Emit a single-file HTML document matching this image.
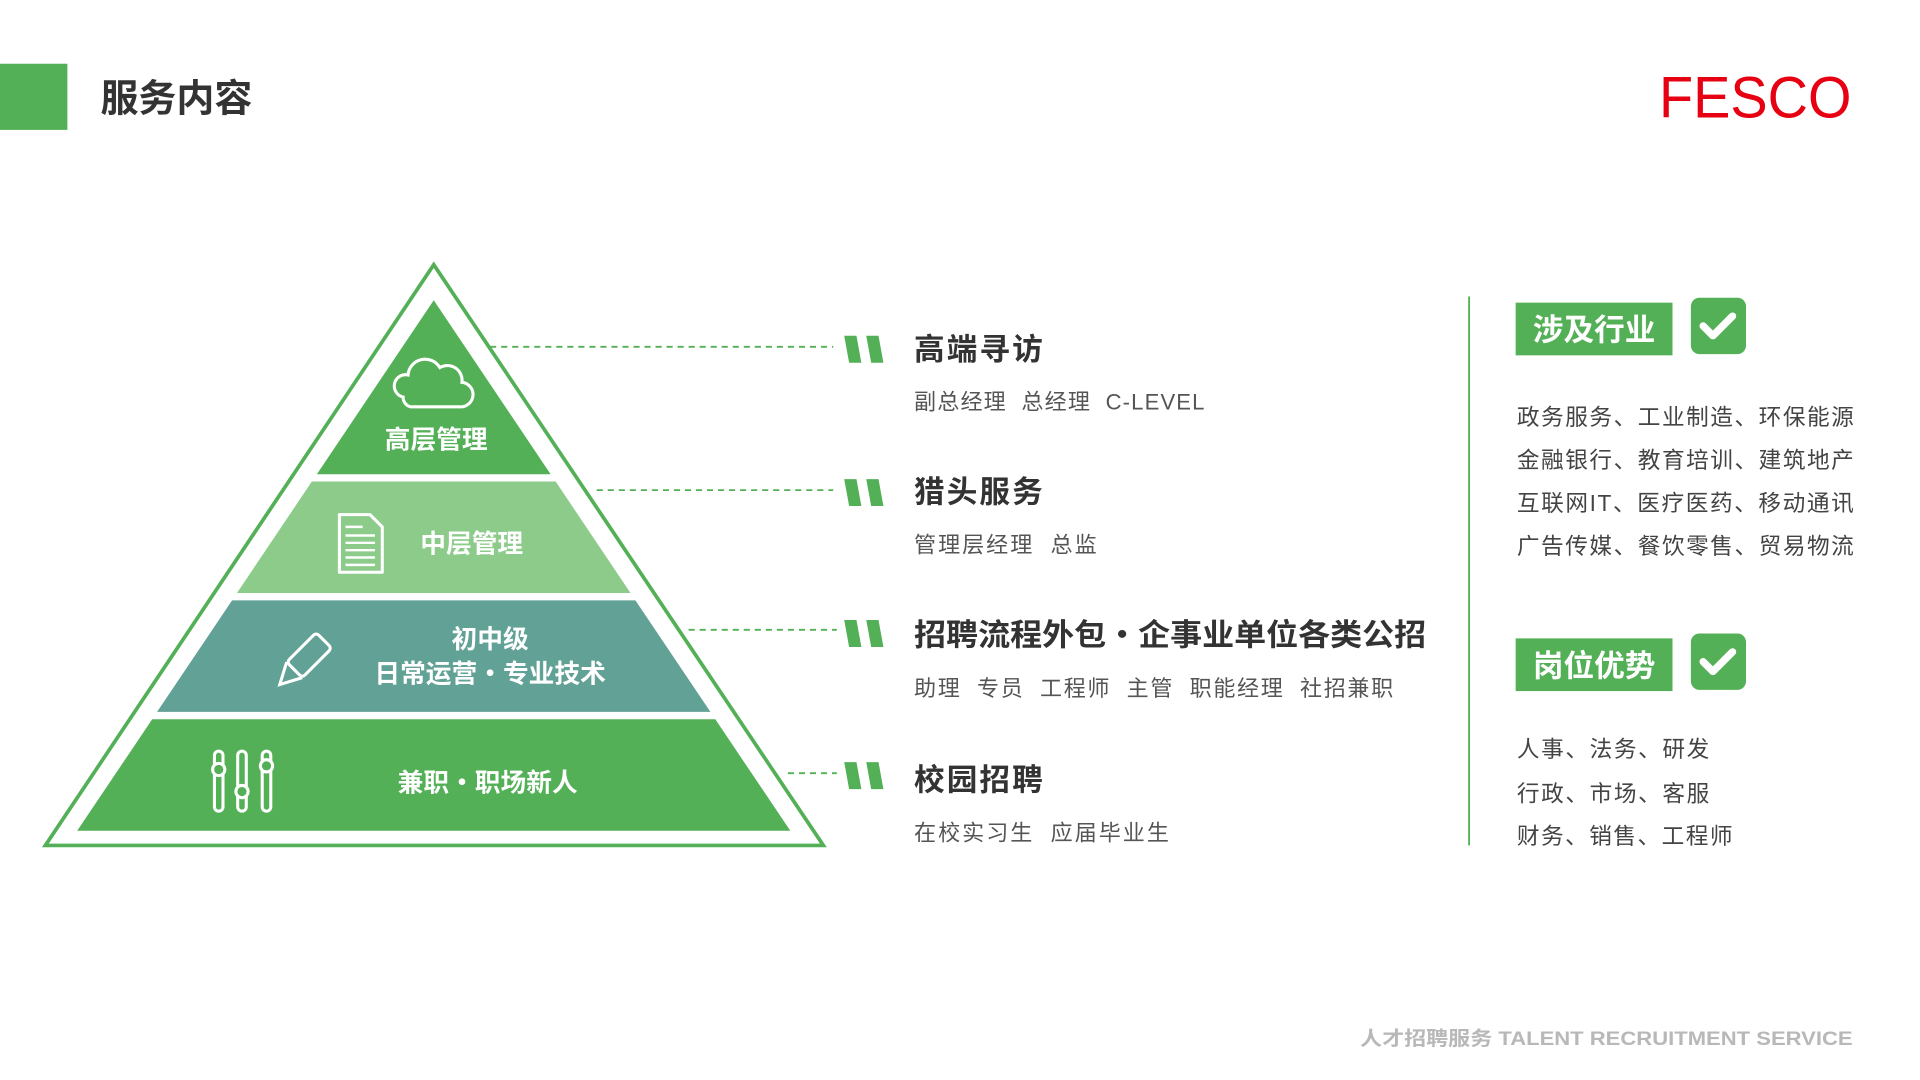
<!DOCTYPE html>
<html><head><meta charset="utf-8"><style>
html,body{margin:0;padding:0;background:#fff;overflow:hidden}
svg{display:block}
text{font-family:"Liberation Sans","Noto Sans CJK SC",sans-serif;white-space:pre}
</style></head><body>
<svg width="1920" height="1080" viewBox="0 0 1567 881.4" xmlns="http://www.w3.org/2000/svg">
<rect x="0" y="52" width="55" height="54" fill="#53b057"/>
<text x="82" y="91" font-size="31" font-weight="bold" fill="#333">服务内容</text>
<text x="1354" y="96" font-size="48" fill="#e60012" textLength="157" lengthAdjust="spacingAndGlyphs">FESCO</text>

<polygon points="354,216 672,690 37,690" fill="none" stroke="#53b057" stroke-width="3"/>
<polygon points="354,245 449.4,387 258.6,387" fill="#53b057"/>
<polygon points="254.5,393 453.5,393 514.6,484 193.4,484" fill="#8dcb8b"/>
<polygon points="189.4,490 518.6,490 579.8,581 128.2,581" fill="#62a195"/>
<polygon points="124.2,587 583.8,587 645,678 63,678" fill="#53b057"/>

<path d="M335,332 h40 a10,10 0 0 0 2,-20 a12,12 0 0 0 -18,-12 a14,14 0 0 0 -26,6 a9,9 0 0 0 -4,18 a8,8 0 0 0 6,8z" fill="none" stroke="#fff" stroke-width="2.5"/>
<text x="356" y="366" font-size="21" font-weight="bold" fill="#fff" text-anchor="middle">高层管理</text>
<path d="M277,420 h25 l10,10 v37 h-35z" fill="none" stroke="#fff" stroke-width="2.5" stroke-linejoin="round"/>
<g stroke="#fff" stroke-width="2"><line x1="282" y1="430" x2="296" y2="430"/><line x1="282" y1="437" x2="306" y2="437"/><line x1="282" y1="443" x2="306" y2="443"/><line x1="282" y1="449" x2="306" y2="449"/><line x1="282" y1="455" x2="306" y2="455"/><line x1="282" y1="461" x2="306" y2="461"/></g>
<text x="385" y="451" font-size="21" font-weight="bold" fill="#fff" text-anchor="middle">中层管理</text>
<g transform="rotate(45 246 541)" fill="none" stroke="#fff" stroke-width="2.5"><rect x="237" y="515" width="18" height="34" rx="3"/><path d="M237,549 L246,566 L255,549"/></g>
<text x="400" y="529" font-size="21" font-weight="bold" fill="#fff" text-anchor="middle">初中级</text>
<text x="400" y="557" font-size="21" font-weight="bold" fill="#fff" text-anchor="middle">日常运营・专业技术</text>
<g fill="none" stroke="#fff" stroke-width="2.5"><rect x="175" y="613" width="7" height="49" rx="3.5"/><rect x="194" y="613" width="7" height="49" rx="3.5"/><rect x="214" y="613" width="7" height="49" rx="3.5"/><circle cx="178.5" cy="628" r="5" fill="#53b057"/><circle cx="197.5" cy="646" r="5" fill="#53b057"/><circle cx="217.5" cy="625" r="5" fill="#53b057"/></g>
<text x="398" y="646" font-size="21" font-weight="bold" fill="#fff" text-anchor="middle">兼职・职场新人</text>

<g stroke="#53b057" stroke-width="1.5" stroke-dasharray="5,4">
<line x1="400" y1="283" x2="680" y2="283"/><line x1="487" y1="400" x2="680" y2="400"/><line x1="562" y1="514" x2="683" y2="514"/><line x1="643" y1="631" x2="683" y2="631"/></g>
<g fill="#53b057">
<path d="M689,274h10l4,22h-10z M707,274h10l4,22h-10z"/>
<path d="M689,391h10l4,22h-10z M707,391h10l4,22h-10z"/>
<path d="M689,506h10l4,22h-10z M707,506h10l4,22h-10z"/>
<path d="M689,622h10l4,22h-10z M707,622h10l4,22h-10z"/>
</g>
<g font-weight="bold" fill="#333" font-size="25">
<text x="746" y="294" textLength="105">高端寻访</text><text x="746" y="410" textLength="105">猎头服务</text><text x="746" y="527" textLength="418" lengthAdjust="spacingAndGlyphs">招聘流程外包・企事业单位各类公招</text><text x="746" y="645" textLength="105">校园招聘</text></g>
<g fill="#555" font-size="18">
<text x="746" y="334" textLength="237">副总经理  总经理  C-LEVEL</text><text x="746" y="451" textLength="149">管理层经理  总监</text><text x="746" y="568" textLength="391">助理  专员  工程师  主管  职能经理  社招兼职</text><text x="746" y="686" textLength="208">在校实习生  应届毕业生</text></g>

<line x1="1199" y1="242" x2="1199" y2="690" stroke="#53b057" stroke-width="1.5"/>
<rect x="1237" y="247" width="128" height="43" fill="#53b057"/>
<text x="1301" y="278" font-size="25" font-weight="bold" fill="#fff" text-anchor="middle">涉及行业</text>
<rect x="1380" y="243" width="45" height="46" rx="7" fill="#53b057"/>
<path d="M1390,266 l8,8 l16,-16" fill="none" stroke="#fff" stroke-width="6" stroke-linecap="round" stroke-linejoin="round"/>
<g fill="#444" font-size="18.5">
<text x="1238" y="347" textLength="275">政务服务、工业制造、环保能源</text><text x="1238" y="382" textLength="275">金融银行、教育培训、建筑地产</text><text x="1238" y="417" textLength="275">互联网IT、医疗医药、移动通讯</text><text x="1238" y="452" textLength="275">广告传媒、餐饮零售、贸易物流</text></g>
<rect x="1237" y="521" width="128" height="43" fill="#53b057"/>
<text x="1301" y="552" font-size="25" font-weight="bold" fill="#fff" text-anchor="middle">岗位优势</text>
<rect x="1380" y="517" width="45" height="46" rx="7" fill="#53b057"/>
<path d="M1390,540 l8,8 l16,-16" fill="none" stroke="#fff" stroke-width="6" stroke-linecap="round" stroke-linejoin="round"/>
<g fill="#444" font-size="18.5">
<text x="1238" y="618" textLength="157">人事、法务、研发</text><text x="1238" y="654" textLength="157">行政、市场、客服</text><text x="1238" y="689" textLength="176">财务、销售、工程师</text></g>

<text x="1110" y="853" font-size="16" font-weight="bold" fill="#b8b8b8" textLength="402" lengthAdjust="spacingAndGlyphs">人才招聘服务 TALENT RECRUITMENT SERVICE</text>
</svg>
</body></html>
